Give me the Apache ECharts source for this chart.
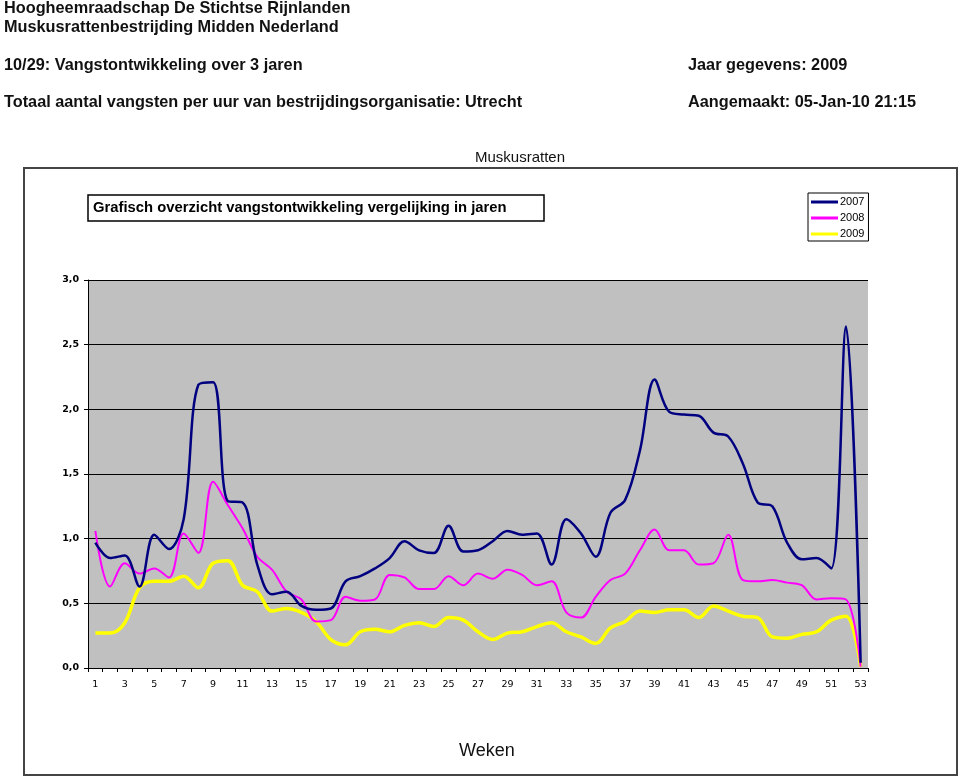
<!DOCTYPE html>
<html>
<head>
<meta charset="utf-8">
<script src="https://cdn.jsdelivr.net/npm/echarts@6/dist/echarts.min.js"></script>
<style>
html,body{margin:0;padding:0;background:#fff;}
#chart{width:960px;height:777px;}
</style>
</head>
<body>
<div id="chart"></div>
<script>
const weeks = ['1','2','3','4','5','6','7','8','9','10','11','12','13','14','15','16','17','18','19','20','21','22','23','24','25','26','27','28','29','30','31','32','33','34','35','36','37','38','39','40','41','42','43','44','45','46','47','48','49','50','51','52','53'];
const v2007 = [0.97,0.85,0.87,0.63,1.03,0.92,1.15,2.19,2.21,1.29,1.28,0.80,0.57,0.59,0.48,0.45,0.46,0.67,0.71,0.77,0.85,0.98,0.91,0.89,1.10,0.90,0.91,0.98,1.06,1.03,1.04,0.80,1.15,1.04,0.86,1.20,1.30,1.68,2.23,1.98,1.96,1.95,1.82,1.79,1.58,1.28,1.25,0.97,0.84,0.85,0.77,2.64,0.04];
const v2008 = [1.06,0.63,0.81,0.73,0.77,0.70,1.04,0.89,1.44,1.26,1.08,0.86,0.76,0.59,0.53,0.36,0.37,0.55,0.52,0.53,0.72,0.70,0.61,0.61,0.71,0.64,0.73,0.69,0.76,0.72,0.64,0.67,0.43,0.39,0.55,0.68,0.73,0.91,1.07,0.91,0.91,0.80,0.81,1.03,0.68,0.67,0.68,0.66,0.64,0.53,0.54,0.53,0.01];
const v2009 = [0.27,0.27,0.35,0.62,0.67,0.67,0.71,0.62,0.81,0.83,0.64,0.59,0.44,0.46,0.43,0.36,0.22,0.18,0.28,0.30,0.28,0.33,0.35,0.32,0.39,0.37,0.28,0.22,0.27,0.28,0.32,0.35,0.28,0.24,0.19,0.31,0.36,0.44,0.43,0.45,0.45,0.39,0.48,0.44,0.40,0.39,0.24,0.23,0.26,0.28,0.37,0.40,0.01];
const seriesNames = ['2007','2008','2009'];

const headerFont = '"Liberation Sans", Arial, sans-serif';
const chart = echarts.init(document.getElementById('chart'), null, {renderer:'canvas'});

function txt(x, y, text) {
  return {type:'text', left:x, top:y,
    style:{text:text, font:'bold 16.3px ' + headerFont, fill:'#111'}};
}

const option = {
  animation:false,
  backgroundColor:'#fff',
  graphic:[
    {type:'rect', shape:{x:24,y:168,width:933,height:607}, style:{fill:'none', stroke:'#444', lineWidth:2}, z:-10},
    txt(4, 1, 'Hoogheemraadschap De Stichtse Rijnlanden'),
    txt(4, 20, 'Muskusrattenbestrijding Midden Nederland'),
    txt(4, 58, '10/29: Vangstontwikkeling over 3 jaren'),
    txt(688, 58, 'Jaar gegevens: 2009'),
    txt(4, 95, 'Totaal aantal vangsten per uur van bestrijdingsorganisatie: Utrecht'),
    txt(688, 95, 'Aangemaakt: 05-Jan-10 21:15'),
    {type:'text', left:475, top:150, style:{text:'Muskusratten', font:'15px '+headerFont, fill:'#111'}},
    {type:'rect', shape:{x:88,y:195,width:456,height:26}, style:{fill:'#fff', stroke:'#000', lineWidth:1.5}},
    {type:'text', left:93, top:200, style:{text:'Grafisch overzicht vangstontwikkeling vergelijking in jaren', font:'bold 14.8px '+headerFont, fill:'#000'}},
    {type:'text', left:459, top:742, style:{text:'Weken', font:'18px '+headerFont, fill:'#111'}}
  ],
  legend:{
    data:seriesNames,
    orient:'vertical',
    left:808, top:193,
    padding:[3,4,1,3],
    itemGap:4,
    icon:'rect',
    itemWidth:27, itemHeight:3,
    borderColor:'#000', borderWidth:1,
    backgroundColor:'#fff',
    textStyle:{fontSize:11, lineHeight:12, fontFamily:headerFont, color:'#000', padding:[0,0,0,-3]}
  },
  grid:{left:88, right:92, top:280, bottom:109, backgroundColor:'#c0c0c0', show:true, borderWidth:0},
  xAxis:{
    type:'category', data:weeks, boundaryGap:true,
    axisLine:{lineStyle:{color:'#000', width:1}},
    axisTick:{show:true, interval:0, length:4, lineStyle:{color:'#000'}},
    axisLabel:{interval:1, color:'#000', fontSize:9.5, fontFamily:'"DejaVu Sans", Verdana, sans-serif', margin:12},
    splitLine:{show:false}
  },
  yAxis:{
    type:'value', min:0, max:3, interval:0.5,
    axisLine:{show:true, lineStyle:{color:'#000', width:1}},
    axisTick:{show:true, length:4, lineStyle:{color:'#000'}},
    axisLabel:{color:'#000', fontSize:9.5, fontWeight:'bold', fontFamily:'"DejaVu Sans", Verdana, sans-serif', margin:9,
      formatter:function(v){return v.toFixed(1).replace('.', ',');}},
    splitLine:{show:true, lineStyle:{color:'#000', width:1}}
  },
  series:[
    {name:'2007', type:'line', data:v2007, smooth:0.35, showSymbol:false, symbol:'none', lineStyle:{color:'#000080', width:2.5}, itemStyle:{color:'#000080'}, z:4},
    {name:'2008', type:'line', data:v2008, smooth:0.35, showSymbol:false, symbol:'none', lineStyle:{color:'#ff00ff', width:2}, itemStyle:{color:'#ff00ff'}, z:3},
    {name:'2009', type:'line', data:v2009, smooth:0.35, showSymbol:false, symbol:'none', lineStyle:{color:'#ffff00', width:3.5}, itemStyle:{color:'#ffff00'}, z:2}
  ]
};
chart.setOption(option);
</script>
</body>
</html>
